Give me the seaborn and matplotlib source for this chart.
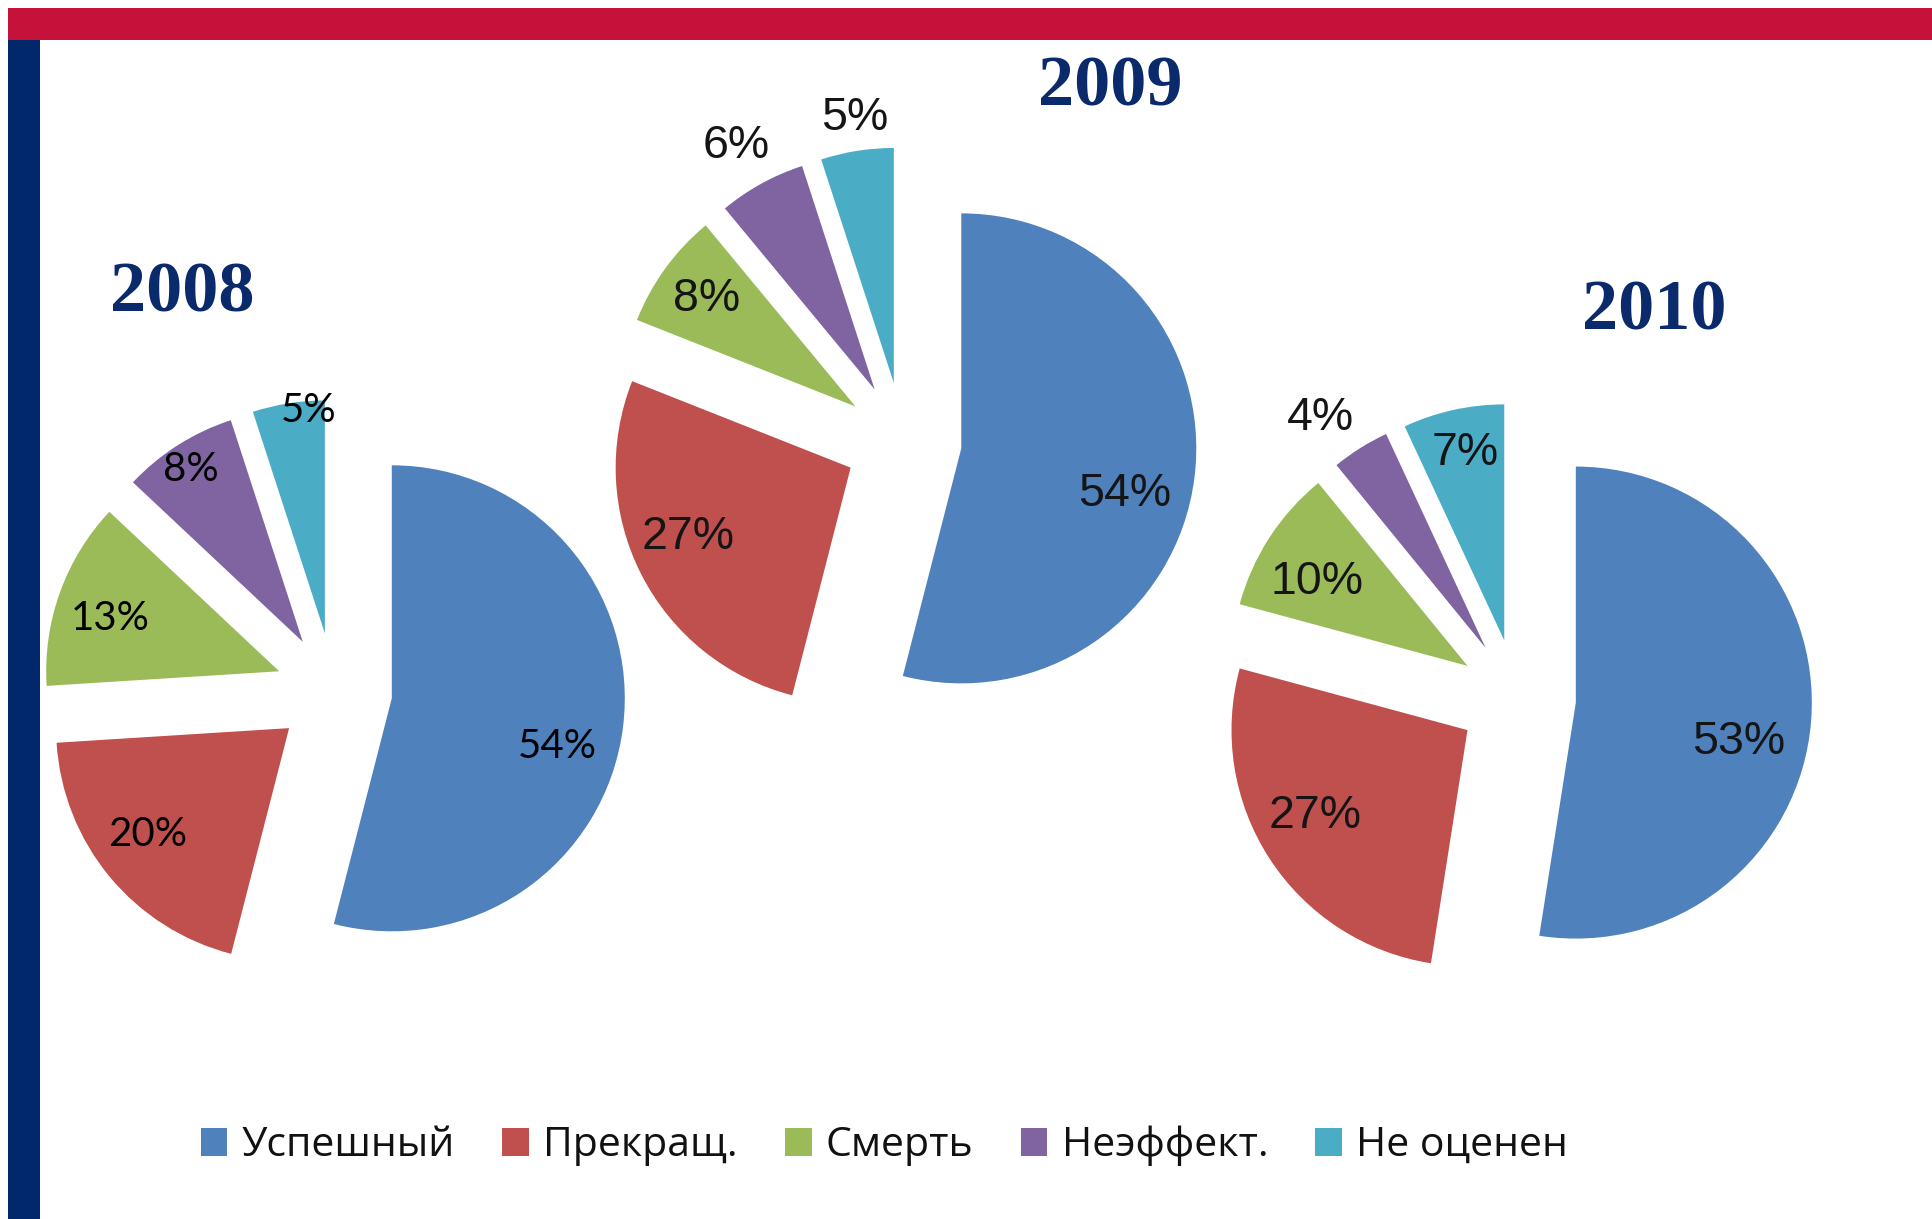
import matplotlib
matplotlib.use('Agg')
import math
import matplotlib.pyplot as plt
from matplotlib.patches import Rectangle, Patch
import seaborn as sns

# ---------------- data ----------------
categories = ['Успешный', 'Прекращ.', 'Смерть', 'Неэффект.', 'Не оценен']
years = ['2008', '2009', '2010']
values_2008 = [54, 20, 13, 8, 5]
values_2009 = [54, 27, 8, 6, 5]
values_2010 = [53, 27, 10, 4, 7]
series = {'2008': values_2008, '2009': values_2009, '2010': values_2010}

colors = ['#4F81BD', '#C0504D', '#9BBB59', '#8064A2', '#4BACC6']

# ---------------- style ----------------
sns.set_theme(style='white')
palette = sns.color_palette(colors)
plt.rcParams['font.family'] = ['Open Sans', 'DejaVu Sans']

W, H, DPI = 1933, 1219, 100
fig = plt.figure(figsize=(W / DPI, H / DPI), dpi=DPI)
fig.patch.set_facecolor('white')

TITLE_COLOR = '#0B2A6B'
BOX = 720          # axes box size in px
EXPLODE = 0.25

# layout in pixel coordinates (from top-left of image)
layout = {
    '2008': dict(center=(334, 691), r=233, title=(182, 312),
                 font=['Lato', 'DejaVu Sans'], size=29, color='#000000',
                 dist=[0.74, 0.76, 0.76, 0.88, 0.96],
                 dth=[-8.9, -2.7, 2.6, 0.6, -4.9]),
    '2009': dict(center=(903, 441), r=235, title=(1110, 105),
                 font=['Liberation Sans', 'DejaVu Sans'], size=33.5, color='#151515',
                 dist=[0.72, 0.75, 0.78, 1.19, 1.14],
                 dth=[-8.4, -3.9, 0.2, 0.8, -0.7]),
    '2010': dict(center=(1517, 698), r=236, title=(1654, 330),
                 font=['Liberation Sans', 'DejaVu Sans'], size=33.5, color='#151515',
                 dist=[0.71, 0.74, 0.73, 1.20, 0.81],
                 dth=[-9.0, -3.5, 3.7, 3.6, -0.8]),
}

for year in years:
    L = layout[year]
    cx, cy = L['center']
    ax = fig.add_axes([(cx - BOX / 2) / W, (H - cy - BOX / 2) / H, BOX / W, BOX / H])
    vals = series[year]
    wedges, _ = ax.pie(vals, colors=palette, startangle=90, counterclock=False,
                       explode=[EXPLODE] * len(vals), radius=1.0,
                       wedgeprops=dict(linewidth=0))
    lim = BOX / 2 / L['r']
    ax.set_xlim(-lim, lim)
    ax.set_ylim(-lim, lim)
    ax.set_aspect('equal')
    ax.set_axis_off()
    for w, v, d, dt in zip(wedges, vals, L['dist'], L['dth']):
        mid = math.radians((w.theta1 + w.theta2) / 2 + dt)
        x0, y0 = w.center
        ax.text(x0 + d * w.r * math.cos(mid), y0 + d * w.r * math.sin(mid),
                f'{v}%', ha='center', va='center', fontsize=L['size'],
                family=L['font'], color=L['color'], clip_on=False)
    tx, ty = L['title']
    fig.text(tx / W, 1 - ty / H, year, ha='center', va='baseline',
             fontsize=52, fontweight='bold', family=['Liberation Serif', 'DejaVu Serif'],
             color=TITLE_COLOR)

# legend
handles = [Patch(facecolor=c, edgecolor='none', label=l) for c, l in zip(palette, categories)]
fig.legend(handles=handles, loc='center', bbox_to_anchor=(0.4576, 1 - 1146 / H),
           ncol=5, frameon=False, fontsize=29.5, handlelength=0.65, handleheight=0.65,
           handletextpad=0.35, columnspacing=1.15, borderaxespad=0,
           labelcolor='#111111')

# decorative bars
fig.add_artist(Rectangle((8 / W, 1 - 40 / H), 1 - 8 / W, 32 / H, transform=fig.transFigure,
                         facecolor='#C4123A', edgecolor='none'))
fig.add_artist(Rectangle((8 / W, 0), 32 / W, 1 - 40 / H, transform=fig.transFigure,
                         facecolor='#00286B', edgecolor='none'))

fig.savefig('out.png', dpi=DPI, facecolor='white')
